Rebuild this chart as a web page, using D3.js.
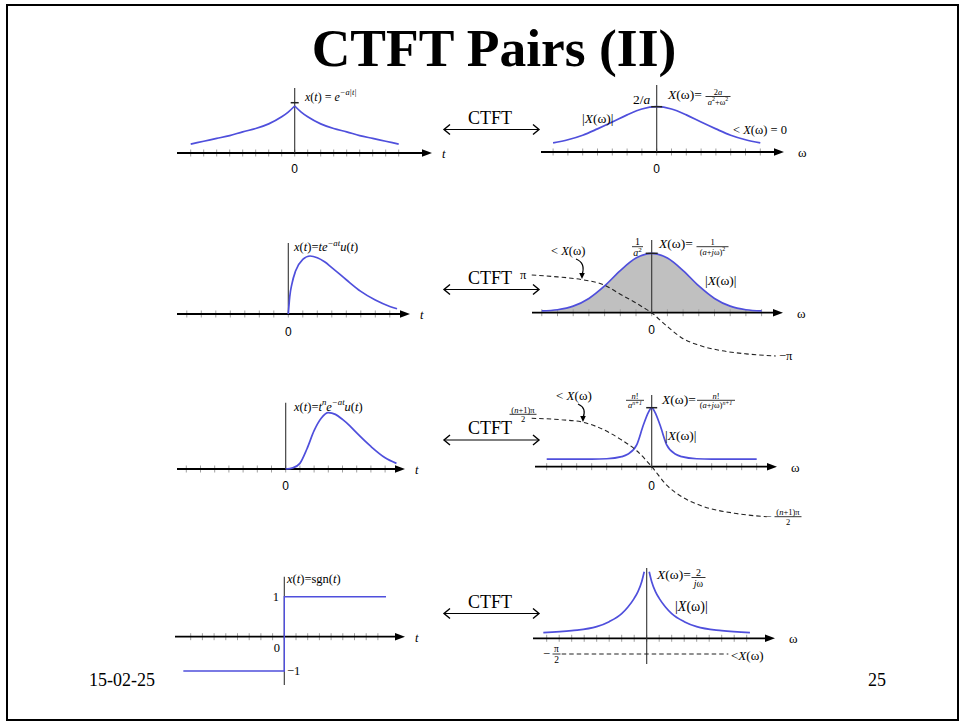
<!DOCTYPE html>
<html>
<head>
<meta charset="utf-8">
<script src="https://cdn.jsdelivr.net/npm/d3@7"></script>
<style>
body { margin:0; background:#fff; }
svg text { font-family:"Liberation Serif","Times New Roman",serif; fill:#000; }
</style>
</head>
<body>
<script>
// ---- data ----
var slideTitle = "CTFT Pairs (II)";
var pairText = "CTFT";
var footerDate = "15-02-25";
var pageNum = "25";
var zeroLabel = "0";

// x(t) = e^{-a|t|}   (t in tick units, value relative to peak)
var expTime = [[-8,0.19],[-7,0.25],[-6,0.31],[-5,0.37],[-4,0.45],[-3,0.52],[-2,0.62],[-1,0.77],[-0.5,0.87],[0,1],
               [0.5,0.87],[1,0.77],[2,0.62],[3,0.52],[4,0.45],[5,0.37],[6,0.31],[7,0.25],[8,0.19]];
var expMag = [[-7,0.2],[-6,0.27],[-5,0.37],[-4,0.51],[-3,0.66],[-2,0.82],[-1,0.95],[0,1],
              [1,0.95],[2,0.82],[3,0.66],[4,0.51],[5,0.37],[6,0.27],[7,0.2]];

// x(t) = t e^{-at} u(t)
var teTime = [[0,0],[0.1,0.3],[0.25,0.52],[0.5,0.74],[1,0.94],[1.5,1],[2,0.97],[2.5,0.9],[3,0.8],
              [4,0.59],[5,0.39],[6,0.24],[7,0.13],[7.5,0.09]];
var teMag = [[-7,0.03],[-6,0.05],[-5,0.11],[-4,0.24],[-3,0.45],[-2,0.71],[-1,0.92],[0,1],
             [1,0.92],[2,0.71],[3,0.45],[4,0.24],[5,0.11],[6,0.05],[7,0.03]];
var tePhase = [[-7.64,1],[-6,0.95],[-4.5,0.88],[-3,0.73],[-2,0.49],[-1,0.26],[-0.5,0.13],[0,0],
               [0.5,-0.16],[1,-0.32],[2,-0.6],[3,-0.75],[4.5,-0.88],[6,-0.95],[7.9,-1]];

// x(t) = t^n e^{-at} u(t)
var tnTime = [[0,0],[0.5,0.02],[1,0.1],[1.5,0.36],[2,0.68],[2.5,0.9],[3,1],[3.5,0.97],[4,0.88],
              [4.5,0.77],[5,0.64],[6,0.4],[7,0.2],[7.8,0.1]];
var tnMag = [[-7,0.13],[-4,0.13],[-3,0.135],[-2,0.17],[-1.6,0.21],[-1,0.37],[-0.55,0.71],[-0.22,0.92],[0,1],
             [0.22,0.92],[0.55,0.71],[1,0.37],[1.6,0.21],[2,0.17],[3,0.135],[4,0.13],[7,0.13]];
var tnPhase = [[-8,1],[-6,0.97],[-4.6,0.92],[-2.8,0.7],[-2,0.55],[-1,0.33],[0,0],
               [1,-0.37],[2,-0.6],[3.3,-0.78],[5.5,-0.93],[7.67,-1]];

// x(t) = sgn(t)
var sgnTime = [[-8.63,-1],[0,-1],[0,1],[8.69,1]];
var sgnMagNeg = [[-8.27,0.084],[-6,0.115],[-4,0.175],[-3,0.25],[-2,0.37],[-1.5,0.47],[-1,0.6],[-0.7,0.7],[-0.4,0.85],[-0.2,1]];
var sgnMagPos = [[0.2,1],[0.4,0.85],[0.7,0.7],[1,0.6],[1.5,0.47],[2,0.37],[3,0.25],[4,0.175],[6,0.115],[8.26,0.084]];
var sgnPhase = [[-6.8,-0.5],[6.53,-0.5]];

// ---- drawing ----
var W = 967, H = 726;
var blue = "#4f4fdc";
var svg = d3.select("body").append("svg").attr("width", W).attr("height", H);

svg.append("rect").attr("x", 7).attr("y", 5).attr("width", 951).attr("height", 715)
  .attr("fill", "none").attr("stroke", "#000").attr("stroke-width", 2);

svg.append("text").attr("x", 494).attr("y", 66).attr("text-anchor", "middle")
  .attr("font-size", 53.5).attr("font-weight", "bold").text(slideTitle);

svg.append("text").attr("x", 89).attr("y", 686).attr("font-size", 18).text(footerDate);
svg.append("text").attr("x", 886).attr("y", 686).attr("font-size", 18).attr("text-anchor", "end").text(pageNum);

function makeLine(xs, ys, curve) {
  return d3.line().x(function(d){ return xs(d[0]); }).y(function(d){ return ys(d[1]); })
    .curve(curve || d3.curveMonotoneX);
}

// text with italic / superscript pieces: parts = [[str, flags]], flags: "i" italic, "^" raised
function mathText(g, x, y, size, parts, anchor) {
  var txt = g.append("text").attr("x", x).attr("y", y).attr("font-size", size)
    .attr("text-anchor", anchor || "start");
  var raised = false;
  parts.forEach(function(p){
    var f = p[1] || "";
    var s = txt.append("tspan").text(p[0]);
    if (f.indexOf("i") >= 0) s.attr("font-style", "italic");
    var sup = f.indexOf("^") >= 0;
    if (sup && !raised) { s.attr("dy", -size * 0.42); raised = true; }
    else if (!sup && raised) { s.attr("dy", size * 0.42); raised = false; }
    if (sup) s.attr("font-size", size * 0.7);
  });
  return txt;
}

function frac(g, cx, ly, w, size, num, den) {
  mathText(g, cx, ly - 1.8, size, num, "middle");
  g.append("line").attr("x1", cx - w / 2).attr("x2", cx + w / 2).attr("y1", ly).attr("y2", ly)
    .attr("stroke", "#000").attr("stroke-width", 0.8);
  mathText(g, cx, ly + size * 0.95, size, den, "middle");
}

// one little plot: ticks, horizontal axis with arrow, vertical axis
function panel(p) {
  var g = svg.append("g");
  var xs = d3.scaleLinear().domain([0, 1]).range([p.cx, p.cx + p.step]);
  var ys = d3.scaleLinear().domain([0, 1]).range([p.y0, p.y1]);
  var api = { g: g, xs: xs, ys: ys, p: p };
  api.axes = function() {
    g.selectAll(".tick").data(d3.range(-p.nt, p.nt + 1)).enter().append("line")
      .attr("x1", function(d){ return xs(d); }).attr("x2", function(d){ return xs(d); })
      .attr("y1", p.y0 - 3.5).attr("y2", p.y0 + 3.5)
      .attr("stroke", "#a0a0a0").attr("stroke-width", 1);
    g.append("line").attr("x1", p.x0).attr("x2", p.x1 - 6).attr("y1", p.y0).attr("y2", p.y0)
      .attr("stroke", "#000").attr("stroke-width", 1.8);
    g.append("path").attr("d", "M" + p.x1 + "," + p.y0 + "l-10,-3.8l0,7.6z").attr("fill", "#000");
    g.append("line").attr("x1", xs(0)).attr("x2", xs(0)).attr("y1", p.vTop).attr("y2", p.vBot)
      .attr("stroke", "#333").attr("stroke-width", 1.1);
    if (p.var == "t") {
      mathText(g, p.x1 + 10, p.y0 + 5, 12.5, [["t", "i"]]);
    } else {
      mathText(g, p.x1 + 14, p.y0 + 5, 13, [["ω", ""]]);
    }
    if (p.zeroY) {
      g.append("text").attr("x", xs(0)).attr("y", p.zeroY).attr("text-anchor", "middle")
        .attr("font-size", 12).style("font-family", "Liberation Sans, Arial, sans-serif").text(zeroLabel);
    }
  };
  api.curve = function(data, yscale, opts) {
    opts = opts || {};
    g.append("path").datum(data).attr("d", makeLine(xs, yscale || ys, opts.curve))
      .attr("fill", "none").attr("stroke", opts.color || blue)
      .attr("stroke-width", opts.width || 1.7)
      .attr("stroke-dasharray", opts.dash || null);
  };
  api.peak = function(v, hw) {
    g.append("line").attr("x1", xs(0) - hw).attr("x2", xs(0) + hw)
      .attr("y1", ys(v)).attr("y2", ys(v)).attr("stroke", "#222").attr("stroke-width", 1.5);
  };
  return api;
}

function ctftArrow(y) {
  svg.append("text").attr("x", 490).attr("y", y - 6).attr("text-anchor", "middle")
    .attr("font-size", 18).text(pairText);
  svg.append("line").attr("x1", 444).attr("x2", 539).attr("y1", y).attr("y2", y)
    .attr("stroke", "#000").attr("stroke-width", 1.2);
  svg.append("path").attr("d", "M450," + (y - 5) + "L444," + y + "L450," + (y + 5))
    .attr("fill", "none").attr("stroke", "#000").attr("stroke-width", 1.4);
  svg.append("path").attr("d", "M533," + (y - 5) + "L539," + y + "L533," + (y + 5))
    .attr("fill", "none").attr("stroke", "#000").attr("stroke-width", 1.4);
}

function pointer(g, x1, y1, x2, y2) {
  g.append("path").attr("d", "M" + x1 + "," + y1 + "Q" + (x2 + 4) + "," + (y1 + 4) + " " + x2 + "," + (y2 - 4))
    .attr("fill", "none").attr("stroke", "#000").attr("stroke-width", 1.2);
  g.append("path").attr("d", "M" + x2 + "," + y2 + "l-2.8,-6l5.6,0z").attr("fill", "#000");
}

var dash = "4.5,3";

// ===== Row 1 =====
var r1l = panel({cx: 294.7, step: 13, nt: 8, y0: 153, y1: 106, x0: 177, x1: 432, vTop: 88, vBot: 153, "var": "t", zeroY: 173});
r1l.axes();
r1l.curve(expTime.filter(function(d){ return d[0] <= 0; }));
r1l.curve(expTime.filter(function(d){ return d[0] >= 0; }));
r1l.peak(1.07, 4);
mathText(r1l.g, 305, 100.5, 12, [["x", "i"], ["(", ""], ["t", "i"], [") = ", ""], ["e", "i"], ["−a|t|", "i^"]]);

var r1r = panel({cx: 656.7, step: 14.8, nt: 7, y0: 152, y1: 106.7, x0: 541, x1: 784, vTop: 85, vBot: 152, "var": "w", zeroY: 173});
r1r.axes();
r1r.curve(expMag);
r1r.peak(1, 5.5);
mathText(r1r.g, 633, 104, 13.5, [["2/", ""], ["a", "i"]]);
mathText(r1r.g, 668, 99, 13.5, [["X", "i"], ["(ω)=", ""]]);
frac(r1r.g, 718, 96.5, 25, 8.5, [["2", ""], ["a", "i"]], [["a", "i"], ["2", "^"], ["+ω", ""], ["2", "^"]]);
mathText(r1r.g, 582, 123, 13.5, [["|", ""], ["X", "i"], ["(ω)|", ""]]);
mathText(r1r.g, 733, 134, 12.5, [["< ", ""], ["X", "i"], ["(ω) = 0", ""]]);
ctftArrow(129.5);

// ===== Row 2 =====
var r2l = panel({cx: 288.3, step: 14.5, nt: 7, y0: 314, y1: 256, x0: 177, x1: 410, vTop: 243, vBot: 314, "var": "t", zeroY: 336});
r2l.axes();
r2l.curve(teTime);
mathText(r2l.g, 294, 251, 12.5, [["x", "i"], ["(", ""], ["t", "i"], [")=", ""], ["te", "i"], ["−at", "i^"], ["u", "i"], ["(", ""], ["t", "i"], [")", ""]]);

var r2r = panel({cx: 651.7, step: 15.7, nt: 7, y0: 312.7, y1: 253.3, x0: 532, x1: 783, vTop: 240, vBot: 314, "var": "w", zeroY: 334});
r2r.g.append("path").datum(teMag)
  .attr("d", d3.area().x(function(d){ return r2r.xs(d[0]); }).y0(r2r.p.y0)
    .y1(function(d){ return r2r.ys(d[1]); }).curve(d3.curveMonotoneX))
  .attr("fill", "#c0c0c0");
r2r.axes();
r2r.curve(teMag);
var ph2 = d3.scaleLinear().domain([-1, 0, 1]).range([356, 312.7, 275]);
r2r.curve(tePhase, ph2, {color: "#222", width: 1.1, dash: dash});
r2r.peak(1, 6);
mathText(r2r.g, 520, 279, 12.5, [["π", ""]]);
mathText(r2r.g, 779, 360, 12.5, [["−π", ""]]);
mathText(r2r.g, 551, 255, 12.5, [["< ", ""], ["X", "i"], ["(ω)", ""]]);
pointer(r2r.g, 576, 259, 582, 279);
frac(r2r.g, 637.5, 246.7, 11, 10, [["1", ""]], [["a", "i"], ["2", "^"]]);
mathText(r2r.g, 659, 248, 13.5, [["X", "i"], ["(ω)=", ""]]);
frac(r2r.g, 712.5, 246.7, 32, 8.5, [["1", ""]], [["(", ""], ["a", "i"], ["+", ""], ["j", "i"], ["ω)", ""], ["2", "^"]]);
mathText(r2r.g, 705, 285, 13.5, [["|", ""], ["X", "i"], ["(ω)|", ""]]);
ctftArrow(289.5);

// ===== Row 3 =====
var r3l = panel({cx: 285.7, step: 14.2, nt: 7, y0: 469, y1: 412.7, x0: 177, x1: 405, vTop: 402.7, vBot: 469, "var": "t", zeroY: 490});
r3l.axes();
r3l.curve(tnTime);
mathText(r3l.g, 294, 410.5, 12.5, [["x", "i"], ["(", ""], ["t", "i"], [")=", ""], ["t", "i"], ["n", "i^"], ["e", "i"], ["−at", "i^"], ["u", "i"], ["(", ""], ["t", "i"], [")", ""]]);

var r3r = panel({cx: 651.7, step: 15, nt: 7, y0: 466.7, y1: 407.7, x0: 535, x1: 777, vTop: 395, vBot: 468, "var": "w", zeroY: 490});
r3r.axes();
r3r.curve(tnMag);
var ph3 = d3.scaleLinear().domain([-1, 0, 1]).range([516.7, 466.7, 418.3]);
r3r.curve(tnPhase, ph3, {color: "#222", width: 1.1, dash: dash});
r3r.peak(1, 5.5);
frac(r3r.g, 523, 414.3, 27, 8.5, [["(", ""], ["n", "i"], ["+1)π", ""]], [["2", ""]]);
mathText(r3r.g, 556, 400, 13, [["< ", ""], ["X", "i"], ["(ω)", ""]]);
pointer(r3r.g, 578, 404, 583, 422);
frac(r3r.g, 635, 400.3, 18, 8.5, [["n", "i"], ["!", ""]], [["a", "i"], ["n+1", "i^"]]);
mathText(r3r.g, 662, 404, 13.5, [["X", "i"], ["(ω)=", ""]]);
frac(r3r.g, 716, 400.3, 38, 8.5, [["n", "i"], ["!", ""]], [["(", ""], ["a", "i"], ["+", ""], ["j", "i"], ["ω)", ""], ["n+1", "i^"]]);
mathText(r3r.g, 665, 440, 13.5, [["|", ""], ["X", "i"], ["(ω)|", ""]]);
mathText(r3r.g, 766, 520, 10, [["−", ""]]);
frac(r3r.g, 788, 516.7, 27, 8.5, [["(", ""], ["n", "i"], ["+1)π", ""]], [["2", ""]]);
ctftArrow(440);

// ===== Row 4 =====
var r4l = panel({cx: 284.3, step: 11.7, nt: 8, y0: 636.7, y1: 596.7, x0: 175, x1: 405, vTop: 576.7, vBot: 685, "var": "t"});
r4l.axes();
var sg = d3.scaleLinear().domain([-1, 0, 1]).range([671, 636.7, 596.7]);
r4l.curve(sgnTime, sg, {curve: d3.curveLinear, width: 1.4});
mathText(r4l.g, 287, 582.5, 12.5, [["x", "i"], ["(", ""], ["t", "i"], [")=sgn(", ""], ["t", "i"], [")", ""]]);
mathText(r4l.g, 279, 601, 12.5, [["1", ""]], "end");
mathText(r4l.g, 280, 652, 12.5, [["0", ""]], "end");
mathText(r4l.g, 287, 675, 12.5, [["−1", ""]]);

var r4r = panel({cx: 646.7, step: 12.5, nt: 8, y0: 638.3, y1: 571.7, x0: 533, x1: 775, vTop: 568, vBot: 664, "var": "w"});
r4r.axes();
r4r.curve(sgnMagNeg);
r4r.curve(sgnMagPos);
var ph4 = d3.scaleLinear().domain([0, -0.5]).range([638.3, 654]);
r4r.curve(sgnPhase, ph4, {curve: d3.curveLinear, color: "#222", width: 1.1, dash: dash});
mathText(r4r.g, 657, 579, 13.5, [["X", "i"], ["(ω)=", ""]]);
frac(r4r.g, 698.5, 577.5, 14, 10, [["2", ""]], [["j", "i"], ["ω", ""]]);
mathText(r4r.g, 675, 611, 14, [["|", ""], ["X", "i"], ["(ω)|", ""]]);
mathText(r4r.g, 543, 658, 12.5, [["−", ""]]);
frac(r4r.g, 556.5, 654, 8, 9.5, [["π", ""]], [["2", ""]]);
mathText(r4r.g, 731, 660, 13, [["<", ""], ["X", "i"], ["(ω)", ""]]);
ctftArrow(613.5);
</script>
</body>
</html>
